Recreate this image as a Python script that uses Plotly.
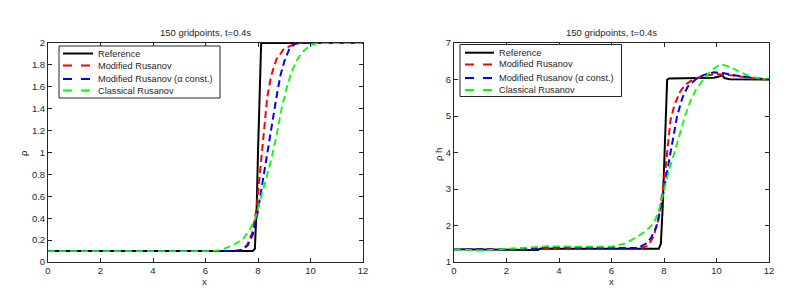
import plotly.graph_objects as go

# ---- data: density rho (left panel) ----
rho_ref_x = [0, 7.8, 7.88, 7.95, 8.0, 8.05, 8.12, 12]
rho_ref_y = [0.1, 0.1, 0.12, 0.5, 1.0, 1.5, 2.0, 2.0]

rho_mod_x = [0, 7.0, 7.4, 7.6, 7.8, 7.95, 8.05, 8.15, 8.25, 8.35, 8.5, 8.7, 9.0, 9.4, 9.6, 12]
rho_mod_y = [0.1, 0.1, 0.11, 0.16, 0.28, 0.5, 0.75, 1.0, 1.3, 1.5, 1.7, 1.85, 1.95, 1.99, 2.0, 2.0]

rho_const_x = [0, 7.1, 7.4, 7.6, 7.8, 7.95, 8.1, 8.25, 8.4, 8.55, 8.7, 8.85, 9.0, 9.2, 9.4, 9.6, 12]
rho_const_y = [0.1, 0.1, 0.11, 0.15, 0.25, 0.4, 0.62, 0.85, 1.05, 1.3, 1.5, 1.7, 1.83, 1.95, 1.99, 2.0, 2.0]

rho_cls_x = [0, 6.2, 6.6, 7.0, 7.4, 7.7, 7.9, 8.1, 8.3, 8.5, 8.7, 8.9, 9.1, 9.3, 9.5, 9.7, 10.0, 10.3, 12]
rho_cls_y = [0.1, 0.1, 0.11, 0.15, 0.2, 0.3, 0.4, 0.58, 0.75, 0.93, 1.15, 1.4, 1.6, 1.75, 1.85, 1.92, 1.98, 2.0, 2.0]

# ---- data: rho*h (right panel) ----
rh_ref_x = [0, 3.1, 3.2, 3.3, 4, 7.8, 7.88, 7.95, 8.0, 8.05, 8.08, 8.12, 8.2, 9.9, 10.1, 10.2, 10.3, 10.5, 12]
rh_ref_y = [1.35, 1.35, 1.33, 1.37, 1.36, 1.36, 1.5, 2.5, 3.5, 4.8, 5.6, 6.0, 6.03, 6.05, 6.08, 6.12, 6.04, 6.01, 6.0]

rh_mod_x = [0, 2, 3.3, 3.5, 6, 7.1, 7.4, 7.6, 7.8, 7.95, 8.05, 8.15, 8.25, 8.4, 8.6, 8.8, 9.1, 9.5, 10.0, 10.5, 11.0, 11.6, 12]
rh_mod_y = [1.35, 1.35, 1.36, 1.38, 1.37, 1.37, 1.45, 1.7, 2.2, 2.9, 3.5, 4.2, 4.9, 5.3, 5.65, 5.85, 6.0, 6.1, 6.15, 6.12, 6.07, 6.02, 6.0]

rh_const_x = [0, 2, 3.3, 3.5, 4, 6, 7.0, 7.3, 7.5, 7.7, 7.85, 8.0, 8.15, 8.3, 8.5, 8.7, 8.9, 9.2, 9.5, 9.9, 10.3, 10.8, 11.5, 12]
rh_const_y = [1.35, 1.35, 1.38, 1.42, 1.4, 1.38, 1.38, 1.5, 1.65, 1.95, 2.4, 3.0, 3.6, 4.1, 5.0, 5.5, 5.8, 6.0, 6.12, 6.2, 6.17, 6.1, 6.03, 6.0]

rh_cls_x = [0, 1, 2, 3, 3.5, 5, 6, 6.5, 7, 7.3, 7.6, 7.8, 8.0, 8.2, 8.4, 8.6, 8.8, 9.0, 9.2, 9.5, 9.8, 10.15, 10.5, 10.9, 11.3, 11.7, 12]
rh_cls_y = [1.35, 1.32, 1.36, 1.4, 1.43, 1.42, 1.42, 1.5, 1.7, 1.85, 2.05, 2.4, 3.0, 3.55, 4.0, 4.5, 5.0, 5.4, 5.7, 6.0, 6.25, 6.42, 6.35, 6.2, 6.08, 6.02, 6.0]

names = ["Reference", "Modified Rusanov", "Modified Rusanov (\u03b1 const.)", "Classical Rusanov"]
colors = ["#000000", "#ff0000", "#0000ff", "#00ff00"]
dashes = ["solid", "7px,4px", "7px,4px", "7px,4px"]
widths = [2, 2, 2, 1.8]

title_text = "150 gridpoints, t=0.4s"
x_ticks = [0, 2, 4, 6, 8, 10, 12]
left_yticks = [0, 0.2, 0.4, 0.6, 0.8, 1, 1.2, 1.4, 1.6, 1.8, 2]
left_yticklabels = ["0", "0.2", "0.4", "0.6", "0.8", "1", "1.2", "1.4", "1.6", "1.8", "2"]
right_yticks = [1, 2, 3, 4, 5, 6, 7]

# page body has an 8px margin: figure is placed at (8, 8)
OFF = 8
W, H = 791 - OFF, 291 - OFF


def px(p):
    return (p - OFF) / W


def py(p):
    return 1 - (p - OFF) / H


TXT = "#262626"
FONT = "Liberation Sans, Arial, sans-serif"

fig = go.Figure()

left = [(rho_ref_x, rho_ref_y), (rho_mod_x, rho_mod_y), (rho_const_x, rho_const_y), (rho_cls_x, rho_cls_y)]
right = [(rh_ref_x, rh_ref_y), (rh_mod_x, rh_mod_y), (rh_const_x, rh_const_y), (rh_cls_x, rh_cls_y)]

for i, (xs, ys) in enumerate(left):
    fig.add_trace(go.Scatter(x=xs, y=ys, mode="lines", name=names[i], showlegend=False,
                             line=dict(color=colors[i], dash=dashes[i], width=widths[i]),
                             xaxis="x", yaxis="y"))
for i, (xs, ys) in enumerate(right):
    fig.add_trace(go.Scatter(x=xs, y=ys, mode="lines", name=names[i], showlegend=False,
                             line=dict(color=colors[i], dash=dashes[i], width=widths[i]),
                             xaxis="x2", yaxis="y2"))

axis_common = dict(showline=True, linecolor=TXT, linewidth=1, mirror="ticks",
                   ticks="inside", ticklen=4, tickcolor=TXT, showgrid=False,
                   zeroline=False, automargin=False, tickfont=dict(size=9.5, color=TXT))

ydom = [py(262), py(43)]

fig.update_layout(
    width=W, height=H,
    margin=dict(l=0, r=0, t=0, b=0),
    paper_bgcolor="white", plot_bgcolor="white",
    font=dict(family=FONT, size=9.5, color=TXT),
    showlegend=False,
    xaxis=dict(domain=[px(48), px(363)], range=[0, 12], tickvals=x_ticks, anchor="y", **axis_common),
    yaxis=dict(domain=ydom, range=[0, 2], tickvals=left_yticks, ticktext=left_yticklabels,
               anchor="x", **axis_common),
    xaxis2=dict(domain=[px(454), px(769)], range=[0, 12], tickvals=x_ticks, anchor="y2", **axis_common),
    yaxis2=dict(domain=ydom, range=[1, 7], tickvals=right_yticks, anchor="x2", **axis_common),
)

annotations = []
shapes = []


def text(t, x, y, size=9.5, angle=0, xanchor="center"):
    annotations.append(dict(text=t, x=px(x), y=py(y), xref="paper", yref="paper", showarrow=False,
                            xanchor=xanchor, yanchor="middle", textangle=angle,
                            font=dict(size=size, color=TXT, family=FONT)))


# titles and axis labels
text(title_text, (48 + 363) / 2, 33)
text(title_text, (454 + 769) / 2, 33)
text("x", 205, 281)
text("x", 611, 281)
text("\u03c1", 23, 153, angle=-90)
text("\u03c1 h", 438, 155, angle=-90)


# legends (drawn as box + line samples + labels)
def legend(box, line_x0, line_x1, text_x, rows):
    x0, y0, x1, y1 = box
    shapes.append(dict(type="rect", xref="paper", yref="paper", x0=px(x0), x1=px(x1), y0=py(y1), y1=py(y0),
                       line=dict(color=TXT, width=1), fillcolor="white", layer="above"))
    for i, ry in enumerate(rows):
        shapes.append(dict(type="line", xref="paper", yref="paper", x0=px(line_x0), x1=px(line_x1),
                           y0=py(ry), y1=py(ry), layer="above",
                           line=dict(color=colors[i], width=widths[i], dash="dash" if i else "solid")))
        text(names[i], text_x, ry, size=9.2, xanchor="left")


legend((59, 46, 220, 98), 63, 93, 95.5, [53.5, 65.5, 79, 90.5])
legend((460, 44.5, 621.5, 96.5), 465, 494, 496.5, [52.7, 64.5, 78, 90])

fig.update_layout(annotations=annotations, shapes=shapes)

fig.write_html("out.html")
